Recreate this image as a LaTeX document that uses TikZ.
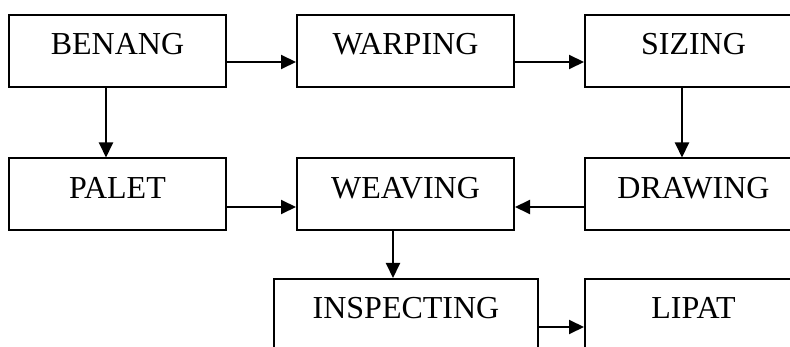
\documentclass[tikz,border=0pt]{standalone}
\usepackage{fontspec}
\setmainfont{Liberation Serif}
\usetikzlibrary{arrows.meta}
\begin{document}
\begin{tikzpicture}[x=1pt,y=-1pt,
  stage/.style={draw=black,line width=2pt,inner sep=0pt,
    minimum width=217pt,text height=40pt,text depth=32pt,
    font=\fontsize{32}{38}\selectfont},
  flow/.style={line width=2pt,-{Triangle[length=15pt,width=14pt]}}]
\clip (0,0) rectangle (790,347);
\fill[white] (0,0) rectangle (790,347);

% top row
\node[stage] (benang)  at (117.5,51) {BENANG};
\node[stage] (warping) at (405.5,51) {WARPING};
\node[stage] (sizing)  at (693.5,51) {SIZING};
% middle row
\node[stage] (palet)   at (117.5,194.5) {PALET};
\node[stage] (weaving) at (405.5,194.5) {WEAVING};
\node[stage] (drawing) at (693.5,194.5) {DRAWING};
% bottom row
\node[stage,minimum width=264pt] (inspecting) at (406,315) {INSPECTING};
\node[stage] (lipat)   at (693.5,315) {LIPAT};

% connectors
\draw[flow] ([yshift=-11pt]benang.east) -- ([yshift=-11pt]warping.west);
\draw[flow] ([yshift=-11pt]warping.east) -- ([yshift=-11pt]sizing.west);
\draw[flow] ([xshift=-11.5pt]benang.south) -- ([xshift=-11.5pt]palet.north);
\draw[flow] ([xshift=-11.5pt]sizing.south) -- ([xshift=-11.5pt]drawing.north);
\draw[flow] ([yshift=-12.5pt]palet.east) -- ([yshift=-12.5pt]weaving.west);
\draw[flow] ([yshift=-12.5pt]drawing.west) -- ([yshift=-12.5pt]weaving.east);
\draw[flow] ([xshift=-12.5pt]weaving.south) -- ([xshift=-12.5pt]weaving.south |- inspecting.north);
\draw[flow] (inspecting.east |- 0,327) coordinate (p) (p) -- (p -| lipat.west);
\end{tikzpicture}
\end{document}
